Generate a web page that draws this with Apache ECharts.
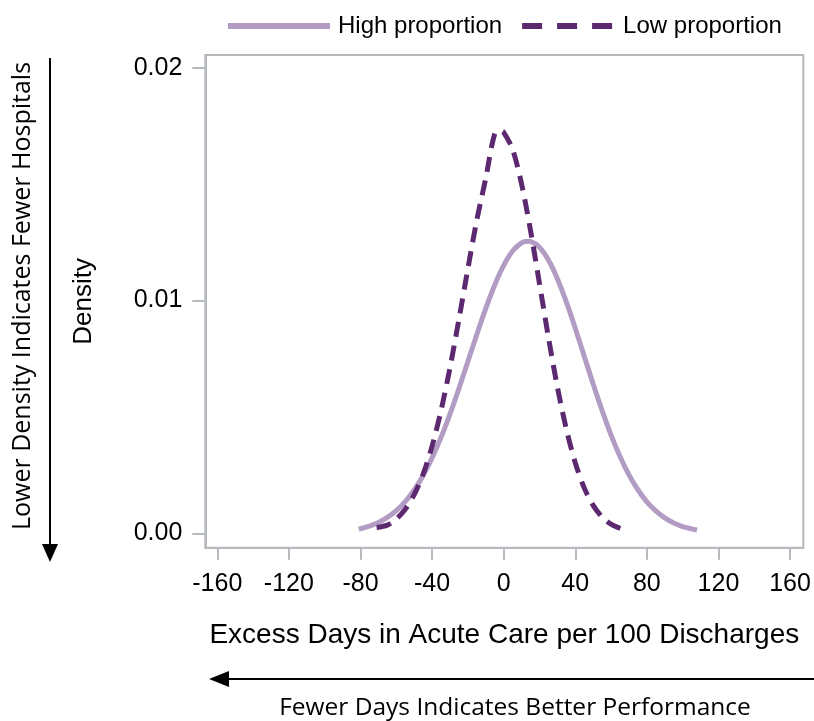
<!DOCTYPE html>
<html>
<head>
<meta charset="utf-8">
<script src="https://cdn.jsdelivr.net/npm/echarts@6/dist/echarts.min.js"></script>
<style>html,body{margin:0;padding:0;background:#fff;}#c{width:814px;height:721px;}</style>
</head>
<body>
<div id="c"></div>
<script>
// Values (x = excess days, y = density)
var highX = [-81, -75, -70, -65, -60, -55, -50, -45, -40, -35, -30, -25, -20, -15, -10, -5, 0, 5, 10, 13.5, 15, 20, 25, 30, 35, 40, 45, 50, 55, 60, 65, 70, 75, 80, 85, 90, 95, 100, 105, 108];
var highY = [0.00018, 0.00031, 0.00046, 0.00068, 0.00097, 0.00136, 0.00186, 0.00248, 0.00324, 0.00412, 0.00512, 0.00622, 0.00738, 0.00854, 0.00966, 0.01067, 0.01151, 0.01213, 0.01248, 0.01255, 0.01254, 0.01229, 0.01174, 0.01094, 0.00994, 0.00881, 0.00761, 0.00641, 0.00527, 0.00422, 0.00330, 0.00251, 0.00187, 0.00135, 0.00096, 0.00066, 0.00044, 0.00029, 0.00019, 0.00014];
var lowX = [-71, -65, -60, -55, -50, -45, -40, -35, -30, -25, -20, -15, -10, -5, -2, 0, 5, 10, 15, 20, 25, 30, 35, 40, 45, 50, 55, 60, 66];
var lowY = [0.00025, 0.00035, 0.00061, 0.00103, 0.00166, 0.00254, 0.00374, 0.00527, 0.00711, 0.00919, 0.01137, 0.01346, 0.01526, 0.01717, 0.01730, 0.01723, 0.01649, 0.01501, 0.01301, 0.01073, 0.00842, 0.00629, 0.00448, 0.00303, 0.00195, 0.00120, 0.00070, 0.00039, 0.00018];
var xTicks = [-160, -120, -80, -40, 0, 40, 80, 120, 160];
var yTicks = [0, 0.01, 0.02];
var seriesNames = ['High proportion', 'Low proportion'];

function pairs(xs, ys) { return xs.map(function (x, i) { return [x, ys[i]]; }); }

var axisGrey = '#b6babe';
var highColor = '#b29cc3';
var lowColor = '#5c2870';
var chart = echarts.init(document.getElementById('c'), null, { renderer: 'canvas' });
chart.setOption({
  animation: false,
  backgroundColor: '#fff',
  legend: {
    data: [
      { name: seriesNames[0], lineStyle: { width: 6, color: highColor } },
      { name: seriesNames[1], lineStyle: { width: 6, color: lowColor, type: [20, 15], dashOffset: 26 } }
    ],
    left: 220, top: 9,
    itemWidth: 102, itemHeight: 6, itemGap: 8,
    itemStyle: { opacity: 0 },
    textStyle: { fontFamily: 'Liberation Sans', fontSize: 24, color: '#000', padding: [0, 0, 0, 3] }
  },
  grid: {
    left: 205.3, right: 10.7, top: 55, bottom: 173.3,
    show: true, borderColor: axisGrey, borderWidth: 2, backgroundColor: 'transparent'
  },
  xAxis: {
    type: 'value', min: -166.7, max: 167.4,
    name: 'Excess Days in Acute Care per 100 Discharges',
    nameLocation: 'middle', nameGap: 74,
    nameTextStyle: { fontFamily: 'Liberation Sans', fontSize: 28, color: '#000' },
    axisLine: { show: true, onZero: false, lineStyle: { color: axisGrey, width: 2 } },
    axisTick: { show: true, length: 12, lineStyle: { color: axisGrey, width: 2 }, customValues: xTicks },
    axisLabel: { customValues: xTicks, margin: 24, fontFamily: 'Liberation Sans', fontSize: 25, color: '#000',
      formatter: function (v) { return String(v); } },
    splitLine: { show: false }
  },
  yAxis: {
    type: 'value', min: -0.00062, max: 0.02055,
    name: 'Density', nameLocation: 'middle', nameGap: 108,
    nameTextStyle: { fontFamily: 'Liberation Sans', fontSize: 26, color: '#000' },
    axisLine: { show: true, onZero: false, lineStyle: { color: axisGrey, width: 2 } },
    axisTick: { show: true, length: 13, lineStyle: { color: axisGrey, width: 2 }, customValues: yTicks },
    axisLabel: { customValues: yTicks, margin: 23, fontFamily: 'Liberation Sans', fontSize: 25, color: '#000',
      formatter: function (v) { return v.toFixed(2); } },
    splitLine: { show: false }
  },
  series: [
    {
      name: seriesNames[0], type: 'line', data: pairs(highX, highY), smooth: 0.3,
      symbol: 'none', lineStyle: { color: highColor, width: 5 }, itemStyle: { color: highColor }
    },
    {
      name: seriesNames[1], type: 'line', data: pairs(lowX, lowY), smooth: 0.3,
      symbol: 'none', lineStyle: { color: lowColor, width: 5, type: [15, 9] }, itemStyle: { color: lowColor }
    }
  ],
  graphic: [
    { type: 'text', x: 23, y: 296, rotation: Math.PI / 2,
      style: { text: 'Lower Density Indicates Fewer Hospitals', font: '25px "Open Sans"', fill: '#000', textAlign: 'center', textVerticalAlign: 'middle' } },
    { type: 'line', shape: { x1: 50, y1: 58, x2: 50, y2: 547 }, style: { stroke: '#000', lineWidth: 2 } },
    { type: 'polygon', shape: { points: [[42, 544], [58, 544], [50, 562]] }, style: { fill: '#000' } },
    { type: 'line', shape: { x1: 226, y1: 679, x2: 814, y2: 679 }, style: { stroke: '#000', lineWidth: 2 } },
    { type: 'polygon', shape: { points: [[209, 679], [229, 671], [229, 687]] }, style: { fill: '#000' } },
    { type: 'text', x: 515, y: 708,
      style: { text: 'Fewer Days Indicates Better Performance', font: '24.5px "Open Sans"', fill: '#000', textAlign: 'center', textVerticalAlign: 'middle' } }
  ]
});
</script>
</body>
</html>
